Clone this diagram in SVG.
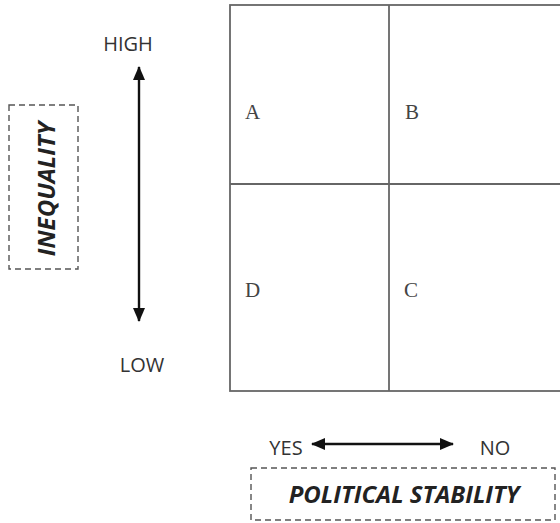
<svg xmlns="http://www.w3.org/2000/svg" width="560" height="523" viewBox="0 0 560 523">
<style>
.lbl{font-family:"Open Sans","Liberation Sans",sans-serif;font-size:20px;fill:#333}
.ttl{font-family:"Open Sans","Liberation Sans",sans-serif;font-size:24px;font-weight:bold;font-style:italic;fill:#222}
.cell{font-family:"Liberation Serif",serif;font-size:21px;fill:#444}
.grid{fill:none;stroke:#666;stroke-width:1.8}
.dash{fill:none;stroke:#555;stroke-width:1.4;stroke-dasharray:6,4}
.arr{stroke:#111;stroke-width:2.4;marker-start:url(#ah);marker-end:url(#ah)}
</style>
<defs>
<marker id="ah" viewBox="0 0 14 12" refX="13" refY="6" markerWidth="14" markerHeight="12" orient="auto-start-reverse" markerUnits="userSpaceOnUse">
<path d="M0,0 L14,6 L0,12 z" fill="#111"/>
</marker>
</defs>
<rect width="560" height="523" fill="#fff"/>
<g id="matrix">
<rect class="grid" x="230" y="5" width="340" height="386"/>
<line class="grid" x1="389" y1="5" x2="389" y2="391"/>
<line class="grid" x1="230" y1="184" x2="570" y2="184"/>
</g>
<g id="cellA"><text class="cell" x="245" y="119">A</text></g>
<g id="cellB"><text class="cell" x="405" y="119">B</text></g>
<g id="cellD"><text class="cell" x="245" y="297">D</text></g>
<g id="cellC"><text class="cell" x="404" y="297">C</text></g>
<g id="inequality">
<rect class="dash" x="9" y="105" width="69" height="164"/>
<text class="ttl" transform="translate(55,189) rotate(-90)" text-anchor="middle">INEQUALITY</text>
</g>
<g id="high"><text class="lbl" x="128" y="51" text-anchor="middle">HIGH</text></g>
<g id="low"><text class="lbl" x="142" y="372" text-anchor="middle">LOW</text></g>
<g id="yes"><text class="lbl" x="286" y="455" text-anchor="middle">YES</text></g>
<g id="no"><text class="lbl" x="495" y="455" text-anchor="middle">NO</text></g>
<g id="stability">
<rect class="dash" x="251" y="468" width="304" height="52"/>
<text class="ttl" x="404" y="503" text-anchor="middle">POLITICAL STABILITY</text>
</g>
<g id="connectors">
<line class="arr" x1="139" y1="67" x2="139" y2="321"/>
<line class="arr" x1="312" y1="444" x2="453" y2="444"/>
</g>
</svg>
